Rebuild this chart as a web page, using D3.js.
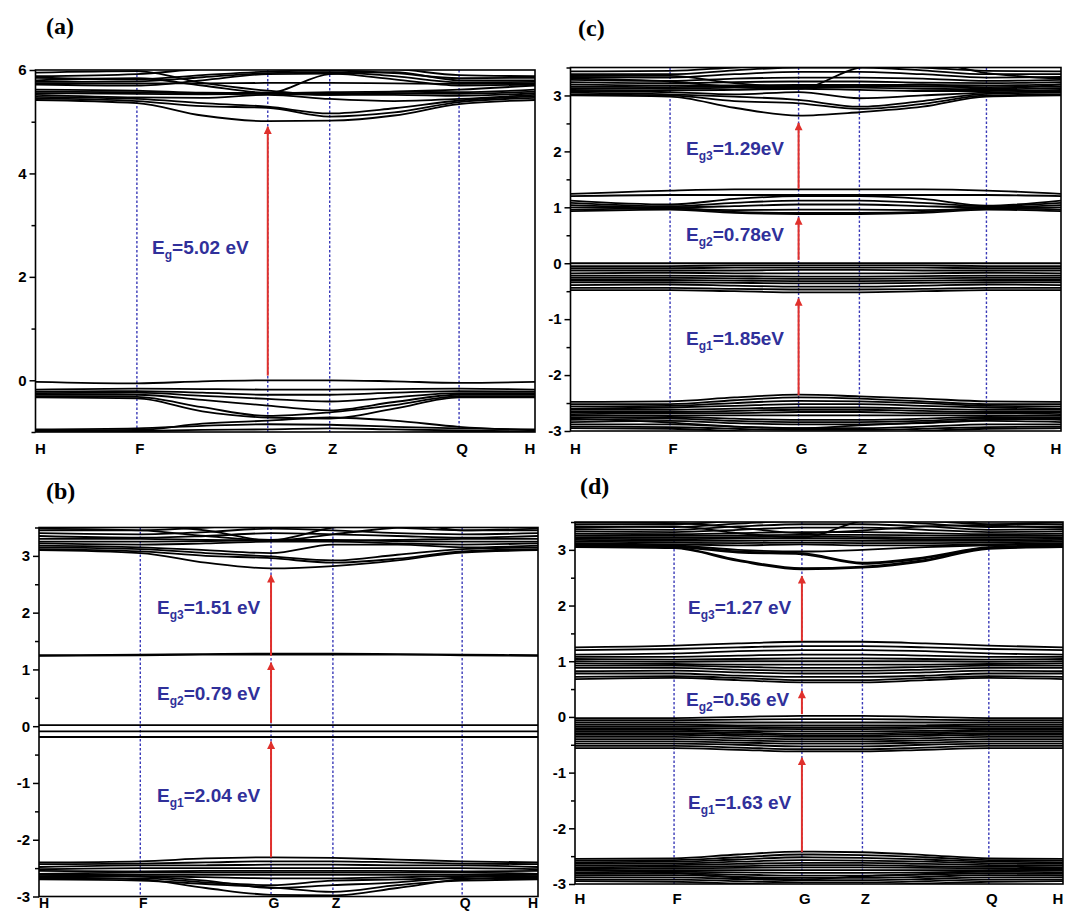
<!DOCTYPE html>
<html><head><meta charset="utf-8">
<script src="https://cdn.jsdelivr.net/npm/d3@7"></script>
<style>body{margin:0;background:#fff}svg{display:block}</style>
</head><body>
<svg id="chart" width="1068" height="912"></svg>
<script>
// ---------- data ----------
const kLabels = ["H", "F", "G", "Z", "Q", "H"];
const kTicks = [0, 0.203, 0.465, 0.589, 0.848, 1];
// k positions at which each band energy is read: H, F, F-G, G, Z, Z-Q, Q, H
const kSamples = [0, 0.203, 0.334, 0.465, 0.589, 0.718, 0.848, 1];

const panelLetters = ["(a)", "(b)", "(c)", "(d)"];

const yTicksA = [-1, 0, 1, 2, 3, 4, 5, 6];
const yLabelsA = [0, 2, 4, 6];
const yTicksBCD = [-3, -2.5, -2, -1.5, -1, -0.5, 0, 0.5, 1, 1.5, 2, 2.5, 3, 3.5];
const yLabelsBCD = [-3, -2, -1, 0, 1, 2, 3];

const bandsA = [
  [5.42, 5.36, 5.12, 5.01, 5.02, 5.12, 5.34, 5.42],
  [5.45, 5.40, 5.30, 5.27, 5.10, 5.18, 5.38, 5.46],
  [5.48, 5.44, 5.36, 5.29, 5.16, 5.26, 5.41, 5.49],
  [5.52, 5.47, 5.46, 5.52, 5.44, 5.40, 5.44, 5.52],
  [5.55, 5.54, 5.53, 5.54, 5.52, 5.52, 5.50, 5.55],
  [5.58, 5.57, 5.55, 5.56, 5.55, 5.55, 5.54, 5.58],
  [5.62, 5.60, 5.56, 5.55, 5.57, 5.58, 5.57, 5.62],
  [5.72, 5.70, 5.80, 5.92, 5.93, 5.82, 5.70, 5.72],
  [5.77, 5.78, 5.86, 5.94, 5.96, 5.88, 5.76, 5.77],
  [5.80, 5.84, 5.70, 5.56, 5.92, 5.96, 5.80, 5.80],
  [5.85, 5.82, 5.90, 5.97, 5.99, 5.94, 5.84, 5.85],
  [5.95, 5.98, 5.75, 5.60, 5.52, 5.58, 5.62, 5.70],
  [5.88, 5.92, 6.02, 6.05, 6.05, 6.02, 5.90, 5.88],
  [5.74, 5.74, 5.74, 5.75, 5.75, 5.74, 5.73, 5.74],
  [-0.03, -0.06, -0.02, 0.00, 0.00, -0.02, -0.05, -0.03],
  [-0.18, -0.16, -0.17, -0.18, -0.18, -0.17, -0.16, -0.18],
  [-0.22, -0.21, -0.24, -0.28, -0.28, -0.24, -0.21, -0.22],
  [-0.25, -0.24, -0.30, -0.36, -0.41, -0.33, -0.25, -0.25],
  [-0.28, -0.28, -0.38, -0.49, -0.58, -0.42, -0.28, -0.28],
  [-0.31, -0.32, -0.52, -0.69, -0.62, -0.48, -0.31, -0.31],
  [-0.33, -0.35, -0.60, -0.72, -0.74, -0.55, -0.33, -0.33],
  [-0.95, -0.93, -0.88, -0.85, -0.86, -0.90, -0.93, -0.95],
  [-0.97, -0.96, -0.84, -0.78, -0.72, -0.78, -0.90, -0.97],
  [-0.99, -0.98, -0.96, -0.95, -0.93, -0.95, -0.97, -0.99],
  [-1.00, -1.00, -1.02, -1.05, -1.05, -1.02, -1.00, -1.00]
];

const bandsB = [
  [3.10, 3.05, 2.88, 2.78, 2.82, 2.92, 3.06, 3.10],
  [3.12, 3.08, 3.00, 2.96, 2.88, 2.95, 3.08, 3.12],
  [3.15, 3.12, 3.05, 2.99, 2.92, 3.02, 3.12, 3.15],
  [3.18, 3.15, 3.10, 3.05, 3.20, 3.20, 3.15, 3.18],
  [3.22, 3.20, 3.22, 3.25, 3.25, 3.22, 3.20, 3.22],
  [3.25, 3.25, 3.26, 3.28, 3.28, 3.26, 3.25, 3.25],
  [3.30, 3.30, 3.28, 3.27, 3.27, 3.28, 3.30, 3.30],
  [3.35, 3.32, 3.35, 3.40, 3.38, 3.35, 3.32, 3.35],
  [3.40, 3.38, 3.42, 3.48, 3.45, 3.40, 3.38, 3.40],
  [3.45, 3.45, 3.50, 3.55, 3.55, 3.50, 3.45, 3.45],
  [3.48, 3.45, 3.35, 3.28, 3.50, 3.60, 3.45, 3.48],
  [3.50, 3.52, 3.45, 3.27, 3.38, 3.50, 3.55, 3.50],
  [1.25, 1.26, 1.27, 1.28, 1.28, 1.27, 1.26, 1.25],
  [1.24, 1.25, 1.26, 1.26, 1.26, 1.26, 1.25, 1.24],
  [0.02, 0.02, 0.02, 0.02, 0.02, 0.02, 0.02, 0.02],
  [-0.09, -0.09, -0.09, -0.09, -0.09, -0.09, -0.09, -0.09],
  [-0.19, -0.19, -0.19, -0.19, -0.19, -0.19, -0.19, -0.19],
  [-2.40, -2.38, -2.33, -2.31, -2.32, -2.35, -2.38, -2.40],
  [-2.43, -2.42, -2.40, -2.38, -2.38, -2.40, -2.42, -2.43],
  [-2.48, -2.45, -2.45, -2.44, -2.44, -2.45, -2.45, -2.48],
  [-2.52, -2.50, -2.50, -2.50, -2.50, -2.50, -2.50, -2.52],
  [-2.55, -2.56, -2.55, -2.55, -2.55, -2.55, -2.56, -2.55],
  [-2.60, -2.58, -2.58, -2.58, -2.58, -2.58, -2.58, -2.60],
  [-2.62, -2.62, -2.62, -2.62, -2.62, -2.62, -2.62, -2.62],
  [-2.65, -2.64, -2.66, -2.68, -2.68, -2.66, -2.64, -2.65],
  [-2.68, -2.68, -2.75, -2.80, -2.72, -2.70, -2.68, -2.68],
  [-2.66, -2.70, -2.85, -2.97, -2.98, -2.85, -2.70, -2.66],
  [-2.70, -2.72, -2.78, -2.84, -2.92, -2.80, -2.72, -2.70],
  [-2.62, -2.65, -2.72, -2.85, -2.80, -2.75, -2.66, -2.62]
];

const bandsC = [
  [3.00, 2.98, 2.78, 2.64, 2.70, 2.80, 2.98, 3.00],
  [3.02, 3.00, 2.90, 2.86, 2.76, 2.85, 3.00, 3.02],
  [3.05, 3.02, 2.98, 2.92, 2.80, 2.90, 3.03, 3.05],
  [3.08, 3.06, 3.02, 3.06, 2.95, 3.00, 3.05, 3.08],
  [3.10, 3.09, 3.10, 3.12, 3.10, 3.08, 3.08, 3.10],
  [3.13, 3.12, 3.14, 3.15, 3.14, 3.12, 3.11, 3.13],
  [3.16, 3.15, 3.16, 3.17, 3.17, 3.16, 3.15, 3.16],
  [3.20, 3.18, 3.18, 3.19, 3.19, 3.19, 3.18, 3.20],
  [3.24, 3.22, 3.24, 3.25, 3.25, 3.23, 3.22, 3.24],
  [3.28, 3.26, 3.30, 3.32, 3.32, 3.30, 3.26, 3.28],
  [3.33, 3.32, 3.38, 3.42, 3.42, 3.38, 3.32, 3.33],
  [3.38, 3.38, 3.45, 3.50, 3.50, 3.45, 3.38, 3.38],
  [3.43, 3.44, 3.50, 3.55, 3.55, 3.50, 3.44, 3.43],
  [3.30, 3.25, 3.15, 3.12, 3.50, 3.60, 3.40, 3.30],
  [3.35, 3.35, 3.22, 3.15, 3.16, 3.20, 3.12, 3.20],
  [1.24, 1.30, 1.32, 1.32, 1.32, 1.32, 1.30, 1.24],
  [1.20, 1.22, 1.22, 1.22, 1.22, 1.22, 1.22, 1.20],
  [1.12, 1.05, 1.15, 1.20, 1.20, 1.15, 1.03, 1.12],
  [1.08, 1.02, 1.08, 1.12, 1.12, 1.08, 1.02, 1.08],
  [1.04, 1.00, 1.02, 1.05, 1.05, 1.02, 1.00, 1.04],
  [1.00, 0.98, 0.95, 0.96, 0.96, 0.95, 0.98, 1.00],
  [0.96, 0.98, 0.92, 0.90, 0.90, 0.92, 0.98, 0.96],
  [0.93, 0.96, 0.90, 0.88, 0.88, 0.90, 0.96, 0.93],
  [0.00, 0.00, 0.00, 0.00, 0.00, 0.00, 0.00, 0.00],
  [-0.05, -0.05, -0.04, -0.04, -0.04, -0.04, -0.05, -0.05],
  [-0.09, -0.09, -0.08, -0.08, -0.08, -0.08, -0.09, -0.09],
  [-0.13, -0.13, -0.13, -0.12, -0.12, -0.13, -0.13, -0.13],
  [-0.18, -0.17, -0.18, -0.18, -0.18, -0.18, -0.17, -0.18],
  [-0.22, -0.22, -0.23, -0.24, -0.24, -0.23, -0.22, -0.22],
  [-0.26, -0.26, -0.27, -0.28, -0.28, -0.27, -0.26, -0.26],
  [-0.30, -0.30, -0.31, -0.32, -0.32, -0.31, -0.30, -0.30],
  [-0.34, -0.34, -0.35, -0.36, -0.36, -0.35, -0.34, -0.34],
  [-0.39, -0.38, -0.40, -0.42, -0.42, -0.40, -0.38, -0.39],
  [-0.44, -0.44, -0.46, -0.47, -0.47, -0.46, -0.44, -0.44],
  [-0.48, -0.48, -0.50, -0.52, -0.52, -0.50, -0.48, -0.48],
  [-2.48, -2.47, -2.40, -2.35, -2.38, -2.42, -2.47, -2.48],
  [-2.52, -2.52, -2.45, -2.40, -2.42, -2.47, -2.52, -2.52],
  [-2.56, -2.55, -2.50, -2.46, -2.47, -2.50, -2.55, -2.56],
  [-2.60, -2.58, -2.55, -2.52, -2.52, -2.55, -2.58, -2.60],
  [-2.62, -2.62, -2.60, -2.58, -2.58, -2.60, -2.62, -2.62],
  [-2.66, -2.66, -2.64, -2.62, -2.62, -2.64, -2.66, -2.66],
  [-2.70, -2.68, -2.68, -2.66, -2.66, -2.68, -2.68, -2.70],
  [-2.73, -2.72, -2.72, -2.72, -2.72, -2.72, -2.72, -2.73],
  [-2.76, -2.75, -2.78, -2.80, -2.80, -2.78, -2.75, -2.76],
  [-2.80, -2.78, -2.82, -2.84, -2.84, -2.82, -2.78, -2.80],
  [-2.84, -2.82, -2.86, -2.88, -2.88, -2.86, -2.82, -2.84],
  [-2.88, -2.88, -2.92, -2.95, -2.95, -2.92, -2.88, -2.88],
  [-2.92, -2.93, -2.96, -2.98, -2.98, -2.96, -2.93, -2.92],
  [-2.95, -2.96, -3.00, -3.05, -3.05, -3.00, -2.96, -2.95],
  [-2.78, -2.85, -2.92, -2.95, -2.90, -2.85, -2.80, -2.78]
];

const bandsD = [
  [3.05, 3.03, 2.80, 2.65, 2.68, 2.80, 3.02, 3.05],
  [3.06, 3.04, 2.82, 2.67, 2.70, 2.82, 3.03, 3.06],
  [3.07, 3.05, 2.95, 2.92, 2.75, 2.85, 3.04, 3.07],
  [3.08, 3.06, 2.97, 2.94, 2.77, 2.87, 3.05, 3.08],
  [3.10, 3.08, 3.00, 2.97, 3.00, 3.05, 3.08, 3.10],
  [3.12, 3.10, 3.08, 3.10, 3.08, 3.08, 3.10, 3.12],
  [3.15, 3.13, 3.12, 3.13, 3.12, 3.12, 3.13, 3.15],
  [3.18, 3.16, 3.16, 3.17, 3.16, 3.16, 3.16, 3.18],
  [3.20, 3.19, 3.20, 3.21, 3.20, 3.19, 3.19, 3.20],
  [3.23, 3.22, 3.23, 3.24, 3.23, 3.22, 3.22, 3.23],
  [3.26, 3.25, 3.26, 3.27, 3.27, 3.26, 3.25, 3.26],
  [3.29, 3.28, 3.30, 3.32, 3.32, 3.30, 3.28, 3.29],
  [3.33, 3.32, 3.36, 3.40, 3.40, 3.36, 3.32, 3.33],
  [3.37, 3.36, 3.42, 3.46, 3.46, 3.42, 3.36, 3.37],
  [3.42, 3.41, 3.47, 3.52, 3.52, 3.47, 3.41, 3.42],
  [3.46, 3.46, 3.52, 3.56, 3.56, 3.52, 3.46, 3.46],
  [3.40, 3.42, 3.30, 3.22, 3.52, 3.60, 3.45, 3.40],
  [3.50, 3.48, 3.40, 3.30, 3.35, 3.42, 3.45, 3.50],
  [1.25, 1.28, 1.32, 1.35, 1.35, 1.32, 1.28, 1.25],
  [1.20, 1.22, 1.25, 1.27, 1.27, 1.25, 1.22, 1.20],
  [1.12, 1.14, 1.18, 1.20, 1.20, 1.18, 1.14, 1.12],
  [1.08, 1.08, 1.10, 1.12, 1.12, 1.10, 1.08, 1.08],
  [1.04, 1.03, 1.04, 1.05, 1.05, 1.04, 1.03, 1.04],
  [1.00, 0.99, 1.00, 1.00, 1.00, 1.00, 0.99, 1.00],
  [0.96, 0.95, 0.94, 0.94, 0.94, 0.94, 0.95, 0.96],
  [0.92, 0.92, 0.90, 0.88, 0.88, 0.90, 0.92, 0.92],
  [0.88, 0.88, 0.85, 0.83, 0.83, 0.85, 0.88, 0.88],
  [0.82, 0.83, 0.80, 0.78, 0.78, 0.80, 0.83, 0.82],
  [0.78, 0.78, 0.74, 0.72, 0.72, 0.74, 0.78, 0.78],
  [0.72, 0.73, 0.70, 0.66, 0.66, 0.70, 0.73, 0.72],
  [0.68, 0.70, 0.66, 0.62, 0.62, 0.66, 0.70, 0.68],
  [-0.02, -0.02, 0.00, 0.02, 0.02, 0.00, -0.02, -0.02],
  [-0.06, -0.06, -0.05, -0.04, -0.04, -0.05, -0.06, -0.06],
  [-0.10, -0.10, -0.10, -0.10, -0.10, -0.10, -0.10, -0.10],
  [-0.14, -0.14, -0.15, -0.15, -0.15, -0.15, -0.14, -0.14],
  [-0.17, -0.17, -0.18, -0.19, -0.19, -0.18, -0.17, -0.17],
  [-0.20, -0.20, -0.21, -0.22, -0.22, -0.21, -0.20, -0.20],
  [-0.23, -0.23, -0.25, -0.26, -0.26, -0.25, -0.23, -0.23],
  [-0.26, -0.26, -0.28, -0.30, -0.30, -0.28, -0.26, -0.26],
  [-0.29, -0.29, -0.31, -0.33, -0.33, -0.31, -0.29, -0.29],
  [-0.32, -0.32, -0.34, -0.36, -0.36, -0.34, -0.32, -0.32],
  [-0.36, -0.36, -0.38, -0.40, -0.40, -0.38, -0.36, -0.36],
  [-0.40, -0.40, -0.42, -0.44, -0.44, -0.42, -0.40, -0.40],
  [-0.44, -0.44, -0.46, -0.48, -0.48, -0.46, -0.44, -0.44],
  [-0.48, -0.48, -0.50, -0.53, -0.53, -0.50, -0.48, -0.48],
  [-0.52, -0.52, -0.55, -0.58, -0.58, -0.55, -0.52, -0.52],
  [-0.56, -0.56, -0.59, -0.62, -0.62, -0.59, -0.56, -0.56],
  [-2.55, -2.54, -2.47, -2.42, -2.43, -2.48, -2.54, -2.55],
  [-2.58, -2.57, -2.52, -2.47, -2.48, -2.52, -2.57, -2.58],
  [-2.61, -2.60, -2.56, -2.52, -2.53, -2.56, -2.60, -2.61],
  [-2.64, -2.63, -2.60, -2.57, -2.58, -2.60, -2.63, -2.64],
  [-2.67, -2.66, -2.64, -2.62, -2.62, -2.64, -2.66, -2.67],
  [-2.70, -2.69, -2.68, -2.66, -2.66, -2.68, -2.69, -2.70],
  [-2.73, -2.72, -2.71, -2.70, -2.70, -2.71, -2.72, -2.73],
  [-2.76, -2.75, -2.75, -2.75, -2.75, -2.75, -2.75, -2.76],
  [-2.79, -2.78, -2.79, -2.80, -2.80, -2.79, -2.78, -2.79],
  [-2.82, -2.81, -2.83, -2.85, -2.85, -2.83, -2.81, -2.82],
  [-2.85, -2.84, -2.87, -2.89, -2.89, -2.87, -2.84, -2.85],
  [-2.88, -2.88, -2.91, -2.93, -2.93, -2.91, -2.88, -2.88],
  [-2.92, -2.92, -2.95, -2.97, -2.97, -2.95, -2.92, -2.92],
  [-2.95, -2.96, -2.99, -3.02, -3.02, -2.99, -2.96, -2.95],
  [-2.74, -2.80, -2.88, -2.92, -2.86, -2.82, -2.76, -2.74]
];

// gap arrows: [subscript, value text, from energy, to energy]
const gapsA = [["g", "5.02 eV", 0.09, 4.96]];
const gapsB = [["g3", "1.51 eV", 1.24, 2.71], ["g2", "0.79 eV", 0.06, 1.17], ["g1", "2.04 eV", -2.31, -0.22]];
const gapsC = [["g3", "1.29eV", 1.33, 2.56], ["g2", "0.78eV", 0.06, 0.87], ["g1", "1.85eV", -2.36, -0.58]];
const gapsD = [["g3", "1.27 eV", 1.36, 2.58], ["g2", "0.56 eV", 0.05, 0.52], ["g1", "1.63 eV", -2.43, -0.68]];

// ---------- layout ----------
const layout = [
  {bands: bandsA, gaps: gapsA, letter: panelLetters[0], ticks: yTicksA, labels: yLabelsA, dom: [-1, 6],
   x0: 35.5, x1: 535, yB: 432, yT: 70, xLabY: 454, xLabSize: 15, letX: 46, letY: 34, gapPos: [[152, 254]]},
  {bands: bandsB, gaps: gapsB, letter: panelLetters[1], ticks: yTicksBCD, labels: yLabelsBCD, dom: [-3, 3.5],
   x0: 39, x1: 538, yB: 896.5, yT: 527.5, xLabY: 908, xLabSize: 14, letX: 46, letY: 499, gapPos: [[157, 614], [157, 700], [157, 802]]},
  {bands: bandsC, gaps: gapsC, letter: panelLetters[2], ticks: yTicksBCD, labels: yLabelsBCD, dom: [-3, 3.5],
   x0: 570.5, x1: 1061, yB: 431, yT: 67.5, xLabY: 454, xLabSize: 15, letX: 578, letY: 36, gapPos: [[686, 155], [686, 241], [686, 345]]},
  {bands: bandsD, gaps: gapsD, letter: panelLetters[3], ticks: yTicksBCD, labels: yLabelsBCD, dom: [-3, 3.5],
   x0: 575, x1: 1063, yB: 884, yT: 522, xLabY: 904, xLabSize: 15, letX: 580, letY: 494, gapPos: [[688, 614], [686, 706], [688, 809]]}
];

const svg = d3.select("#chart");
const defs = svg.append("defs");
defs.append("marker").attr("id", "ah").attr("viewBox", "0 0 10 10").attr("refX", 9).attr("refY", 5)
  .attr("markerWidth", 4.5).attr("markerHeight", 4).attr("orient", "auto").attr("markerUnits", "strokeWidth")
  .append("path").attr("d", "M0,0 L10,5 L0,10 Z").attr("fill", "#e0302c");

const blue = "#30309a";
const sans = "Liberation Sans, Arial, sans-serif";

layout.forEach((p, i) => {
  const x = d3.scaleLinear().domain([0, 1]).range([p.x0, p.x1]);
  const y = d3.scaleLinear().domain(p.dom).range([p.yB, p.yT]);
  const g = svg.append("g");
  const cid = "clip" + i;
  defs.append("clipPath").attr("id", cid).append("rect")
    .attr("x", p.x0).attr("y", p.yT).attr("width", p.x1 - p.x0).attr("height", p.yB - p.yT);

  // high-symmetry dashed lines
  g.selectAll("line.k").data(kTicks.slice(1, 5)).join("line")
    .attr("x1", d => x(d)).attr("x2", d => x(d)).attr("y1", p.yT).attr("y2", p.yB)
    .attr("stroke", "#3a3ab8").attr("stroke-width", 1.4).attr("stroke-dasharray", "2.5,2");

  // bands
  const line = d3.line().x((d, j) => x(kSamples[j])).y(d => y(d)).curve(d3.curveMonotoneX);
  g.append("g").attr("clip-path", `url(#${cid})`).selectAll("path").data(p.bands).join("path")
    .attr("d", line).attr("fill", "none").attr("stroke", "#000").attr("stroke-width", 1.8);

  // frame
  g.append("rect").attr("x", p.x0).attr("y", p.yT).attr("width", p.x1 - p.x0).attr("height", p.yB - p.yT)
    .attr("fill", "none").attr("stroke", "#000").attr("stroke-width", 1.6);

  // y axis: majors (labelled) and minors
  const minor = p.ticks.filter(t => !p.labels.includes(t));
  const ax1 = g.append("g").attr("transform", `translate(${p.x0},0)`)
    .call(d3.axisLeft(y).tickValues(p.labels).tickSize(6).tickPadding(3).tickFormat(d => String(d)));
  const ax2 = g.append("g").attr("transform", `translate(${p.x0},0)`)
    .call(d3.axisLeft(y).tickValues(minor).tickSize(4).tickFormat(""));
  [ax1, ax2].forEach(a => {
    a.select(".domain").remove();
    a.selectAll("line").attr("stroke", "#000").attr("stroke-width", 1.5);
    a.selectAll("text").attr("font-family", sans)
      .attr("font-weight", "bold").attr("font-size", 15).attr("fill", "#000");
  });

  // x labels
  g.selectAll("text.kl").data(kLabels).join("text")
    .attr("x", (d, j) => x(kTicks[j]) + (j === 0 ? 5 : j === kLabels.length - 1 ? -5 : 3))
    .attr("y", p.xLabY).attr("text-anchor", "middle")
    .attr("font-family", sans).attr("font-weight", "bold")
    .attr("font-size", p.xLabSize).text(d => d);

  // gap arrows and labels
  p.gaps.forEach((gp, j) => {
    g.append("line").attr("x1", x(kTicks[2])).attr("x2", x(kTicks[2]))
      .attr("y1", y(gp[2])).attr("y2", y(gp[3]) + 3)
      .attr("stroke", "#e0302c").attr("stroke-width", 2).attr("marker-end", "url(#ah)");
    const t = g.append("text").attr("x", p.gapPos[j][0]).attr("y", p.gapPos[j][1])
      .attr("font-family", sans).attr("font-weight", "bold")
      .attr("font-size", 19).attr("fill", blue);
    t.append("tspan").text("E");
    t.append("tspan").attr("font-size", 12).attr("dy", 5).text(gp[0]);
    t.append("tspan").attr("dy", -5).text("=" + gp[1]);
  });

  // panel letter
  svg.append("text").attr("x", p.letX).attr("y", p.letY)
    .attr("font-family", "Liberation Serif, Times New Roman, serif").attr("font-weight", "bold")
    .attr("font-size", 24).text(p.letter);
});
</script>
</body></html>
